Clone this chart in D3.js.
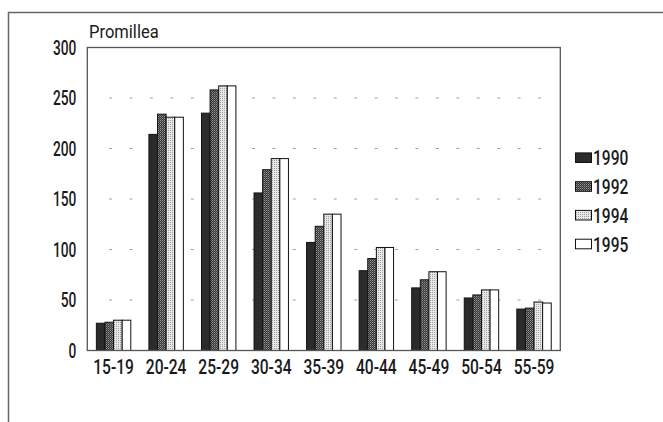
<!DOCTYPE html>
<html><head><meta charset="utf-8">
<script src="https://cdn.jsdelivr.net/npm/d3@7"></script>
<style>
html,body{margin:0;padding:0;background:#fff;}
text{font-family:Roboto,"Liberation Sans",Arial,sans-serif;font-weight:500;fill:#1a1a1a;}
</style></head>
<body><svg id="c" width="663" height="422"></svg>
<script>
const categories = ["15-19","20-24","25-29","30-34","35-39","40-44","45-49","50-54","55-59"];
const seriesNames = ["1990","1992","1994","1995"];
const v1990 = [27, 214, 235, 156, 107, 79, 62, 52, 41];
const v1992 = [28, 234, 258, 179, 123, 91, 70, 55, 42];
const v1994 = [30, 231, 262, 190, 135, 102, 78, 60, 48];
const v1995 = [30, 231, 262, 190, 135, 102, 78, 60, 47];
const yTicks = [0, 50, 100, 150, 200, 250, 300];
const gridTicks = [50, 100, 150, 200, 250];
const yTitle = "Promillea";

const series = [v1990, v1992, v1994, v1995];
const svg = d3.select("#c");
const defs = svg.append("defs");
const p1 = defs.append("pattern").attr("id","pat1992").attr("patternUnits","userSpaceOnUse").attr("width",2).attr("height",2);
p1.append("rect").attr("width",2).attr("height",2).attr("fill","#333");
p1.append("rect").attr("width",1).attr("height",1).attr("fill","#9a9a9a");
p1.append("rect").attr("x",1).attr("y",1).attr("width",1).attr("height",1).attr("fill","#6a6a6a");
const p2 = defs.append("pattern").attr("id","pat1994").attr("patternUnits","userSpaceOnUse").attr("width",2).attr("height",2);
p2.append("rect").attr("width",2).attr("height",2).attr("fill","#e8e8e8");
p2.append("rect").attr("width",1).attr("height",1).attr("fill","#a0a0a0");
const fills = ["#2b2b2b","url(#pat1992)","url(#pat1994)","#ffffff"];

const L = 87.3, R = 560.3, T = 47.5, B = 350.5;
const SY = 0.67, SXL = 0.76, SLG = 0.74;
const x = d3.scaleBand().domain(categories).range([L, R]).padding(0);
const x1 = d3.scaleBand().domain(seriesNames).range([0, x.bandwidth()*0.655]);
const y = d3.scaleLinear().domain([0, 300]).range([B, T]);

svg.append("path").attr("d", `M8.5,422 L8.5,12.5 L663,12.5`).attr("fill","none").attr("stroke","#666").attr("stroke-width",1.5);

svg.append("g").selectAll("line").data(gridTicks).join("line")
  .attr("x1", 109).attr("x2", 542)
  .attr("y1", d => y(d)).attr("y2", d => y(d))
  .attr("stroke","#a0a0a0").attr("stroke-width",1)
  .attr("stroke-dasharray","3,17.43");

const off = (x.bandwidth() - x1.range()[1]) / 2;
const g = svg.append("g");
categories.forEach((c, i) => {
  seriesNames.forEach((s, j) => {
    g.append("rect")
      .attr("x", x(c) + off + x1(s))
      .attr("y", y(series[j][i]))
      .attr("width", x1.bandwidth())
      .attr("height", y(0) - y(series[j][i]))
      .attr("fill", fills[j])
      .attr("stroke", "#111").attr("stroke-width", 1);
  });
});

svg.append("rect").attr("x", L).attr("y", T).attr("width", R - L).attr("height", B - T)
  .attr("fill","none").attr("stroke","#555").attr("stroke-width",1.3);

const ya = svg.append("g").attr("transform", `translate(${L},0)`)
  .call(d3.axisLeft(y).tickValues(yTicks).tickSize(0).tickPadding(11));
ya.select(".domain").remove();
ya.selectAll("text").style("font-size","20.5px").attr("fill","#1a1a1a")
  .attr("x", -11 / SY).attr("transform", `scale(${SY},1)`);

const xa = svg.append("g").attr("transform", `translate(0,${B})`)
  .call(d3.axisBottom(x).tickSize(0).tickPadding(9));
xa.select(".domain").remove();
xa.selectAll("text").style("font-size","20.5px").attr("fill","#1a1a1a")
  .attr("transform", `scale(${SXL},1)`);

svg.append("text").attr("transform", "translate(89,37.5) scale(0.92,1)").style("font-size","18px").style("font-weight","400").text(yTitle);

const lg = svg.append("g");
const ly = [157.7, 186.5, 215.2, 244];
seriesNames.forEach((s, j) => {
  lg.append("rect").attr("x", 575.5).attr("y", ly[j] - 4.8).attr("width", 16).attr("height", 9.6)
    .attr("fill", fills[j]).attr("stroke", "#111").attr("stroke-width", 1);
  lg.append("text").attr("transform", `translate(593,${ly[j]}) scale(${SLG},1)`).attr("dy","0.36em").style("font-size","21px").text(s);
});
</script></body></html>
